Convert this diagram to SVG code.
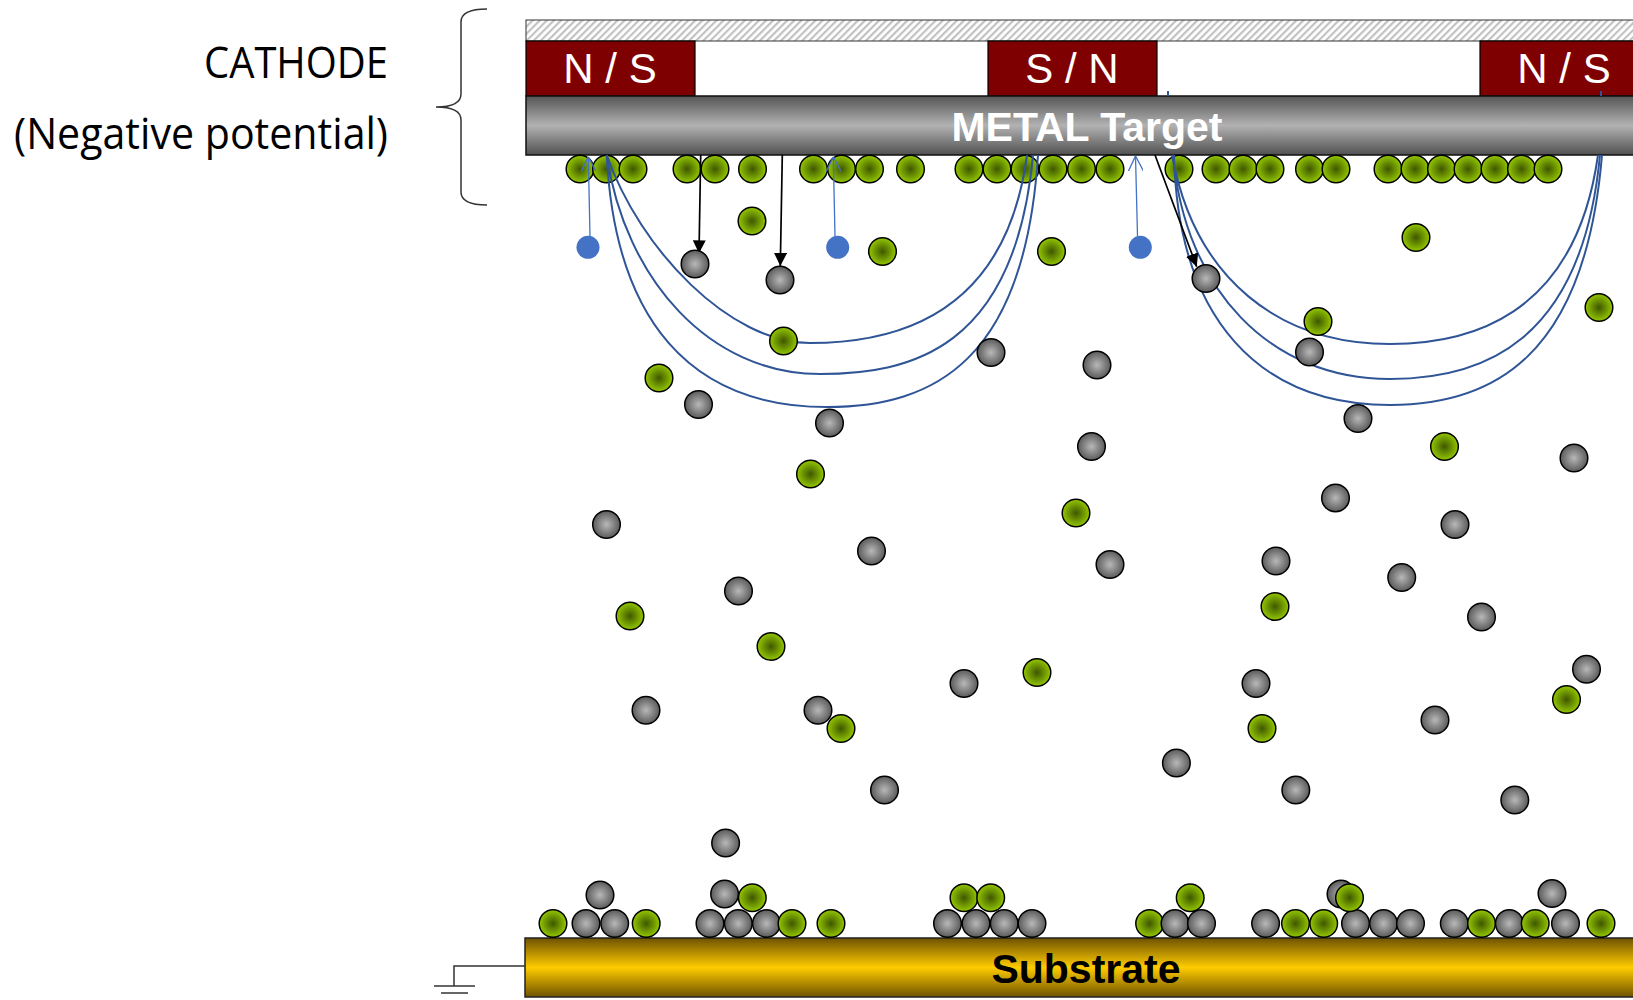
<svg xmlns="http://www.w3.org/2000/svg" width="1633" height="1000" viewBox="0 0 1633 1000">
  <style>
    .label { font-family: "Open Sans", "Liberation Sans", sans-serif; font-size: 44px; fill: #000; }
    .pole { font-family: "Liberation Sans", Arial, sans-serif; font-size: 42px; fill: #fff; text-anchor: middle; }
    .bold { font-family: "Liberation Sans", Arial, sans-serif; font-weight: bold; font-size: 41px; text-anchor: middle; }
    .magnet { fill: #7f0000; stroke: #000; stroke-width: 1.2; }
    .field { fill: none; stroke: #2f5597; stroke-width: 2; }
    .ion { fill: none; stroke: #4472c4; stroke-width: 1.3; }
    .atom { fill: none; stroke: #000; stroke-width: 1.7; }
    .g { fill: url(#gGreen); stroke: #000; stroke-width: 1.5; }
    .m { fill: url(#gGray); stroke: #000; stroke-width: 1.5; }
    .e { fill: #4472c4; }
    .wire { fill: none; stroke: #333; stroke-width: 1.5; }
  </style>
  <defs>
    <pattern id="hatch" width="5" height="5" patternUnits="userSpaceOnUse" patternTransform="rotate(45)">
      <rect width="5" height="5" fill="#fff"/>
      <line x1="1" y1="0" x2="1" y2="5" stroke="#c2c2c2" stroke-width="2.4"/>
    </pattern>
    <linearGradient id="gTarget" x1="0" y1="0" x2="0" y2="1">
      <stop offset="0" stop-color="#555"/>
      <stop offset="0.5" stop-color="#b2b2b2"/>
      <stop offset="1" stop-color="#505050"/>
    </linearGradient>
    <linearGradient id="gSubstrate" x1="0" y1="0" x2="0" y2="1">
      <stop offset="0" stop-color="#6e5200"/>
      <stop offset="0.5" stop-color="#ffcc00"/>
      <stop offset="1" stop-color="#6e5200"/>
    </linearGradient>
    <radialGradient id="gGreen" cx="0.5" cy="0.5" r="0.5">
      <stop offset="0" stop-color="#3f5700"/>
      <stop offset="1" stop-color="#94c800"/>
    </radialGradient>
    <radialGradient id="gGray" cx="0.5" cy="0.5" r="0.5">
      <stop offset="0" stop-color="#b8b8b8"/>
      <stop offset="1" stop-color="#5a5a5a"/>
    </radialGradient>
    <marker id="openHead" viewBox="0 0 10 10" refX="10" refY="5" markerWidth="15" markerHeight="15" markerUnits="userSpaceOnUse" orient="auto">
      <path d="M0,0 L10,5 L0,10" fill="none" stroke="#4472c4" stroke-width="0.9"/>
    </marker>
    <marker id="solidHead" viewBox="0 0 10 10" refX="10" refY="5" markerWidth="13" markerHeight="13" markerUnits="userSpaceOnUse" orient="auto">
      <path d="M0,0 L10,5 L0,10 z" fill="#000"/>
    </marker>
  </defs>

  <rect width="1633" height="1000" fill="#fff"/>

  <!-- cathode labels and brace -->
  <g id="cathode-label">
    <text class="label" x="388" y="78" text-anchor="end" textLength="184" lengthAdjust="spacingAndGlyphs">CATHODE</text>
    <text class="label" x="388" y="149" text-anchor="end" textLength="374" lengthAdjust="spacingAndGlyphs">(Negative potential)</text>
    <path class="wire" d="M487,9 Q461,9 461,22 L461,94 Q461,107 436,107 Q461,107 461,120 L461,192 Q461,205 487,205" stroke="#222" stroke-width="1.4"/>
  </g>

  <!-- backing plate -->
  <g id="backing-plate">
    <rect x="526" y="20" width="1120" height="21" fill="url(#hatch)" stroke="#333" stroke-width="1"/>
  </g>

  <!-- magnets -->
  <g id="magnet-left">
    <rect class="magnet" x="526" y="41" width="169" height="55"/>
    <text class="pole" x="610" y="83">N / S</text>
  </g>
  <g id="magnet-center">
    <rect class="magnet" x="988" y="41" width="169" height="55"/>
    <text class="pole" x="1072" y="83">S / N</text>
  </g>
  <g id="magnet-right">
    <rect class="magnet" x="1480" y="41" width="169" height="55"/>
    <text class="pole" x="1564" y="83">N / S</text>
  </g>

  <!-- metal target -->
  <g id="target">
    <rect x="526" y="96" width="1120" height="59" fill="url(#gTarget)" stroke="#111" stroke-width="1.5"/>
    <text class="bold" x="1087" y="141" fill="#fff">METAL Target</text>
  </g>

  <!-- atoms sitting on the target surface -->
  <g id="target-surface-atoms">
    <circle class="g" cx="580" cy="169" r="13.8"/>
    <circle class="g" cx="606.5" cy="169" r="13.8"/>
    <circle class="g" cx="633" cy="169" r="13.8"/>
    <circle class="g" cx="687" cy="169" r="13.8"/>
    <circle class="g" cx="715" cy="169" r="13.8"/>
    <circle class="g" cx="752.5" cy="169" r="13.8"/>
    <circle class="g" cx="813.5" cy="169" r="13.8"/>
    <circle class="g" cx="841.5" cy="169" r="13.8"/>
    <circle class="g" cx="869.5" cy="169" r="13.8"/>
    <circle class="g" cx="910.5" cy="169" r="13.8"/>
    <circle class="g" cx="969" cy="169" r="13.8"/>
    <circle class="g" cx="997" cy="169" r="13.8"/>
    <circle class="g" cx="1025" cy="169" r="13.8"/>
    <circle class="g" cx="1053" cy="169" r="13.8"/>
    <circle class="g" cx="1081.5" cy="169" r="13.8"/>
    <circle class="g" cx="1110" cy="169" r="13.8"/>
    <circle class="g" cx="1179" cy="169" r="13.8"/>
    <circle class="g" cx="1216" cy="169" r="13.8"/>
    <circle class="g" cx="1243" cy="169" r="13.8"/>
    <circle class="g" cx="1270" cy="169" r="13.8"/>
    <circle class="g" cx="1309.5" cy="169" r="13.8"/>
    <circle class="g" cx="1336" cy="169" r="13.8"/>
    <circle class="g" cx="1388" cy="169" r="13.8"/>
    <circle class="g" cx="1415" cy="169" r="13.8"/>
    <circle class="g" cx="1441.5" cy="169" r="13.8"/>
    <circle class="g" cx="1468" cy="169" r="13.8"/>
    <circle class="g" cx="1495" cy="169" r="13.8"/>
    <circle class="g" cx="1521.5" cy="169" r="13.8"/>
    <circle class="g" cx="1548" cy="169" r="13.8"/>
  </g>

  <!-- magnetic field lines and particle paths -->
  <g id="connectors">
    <path class="field" d="M606.7,155 C640,250 730,343 810,343 C890,343 1005,320 1027,155"/>
    <path class="field" d="M606.7,155 C625,280 710,374 820,374 C910,374 1015,350 1033,155"/>
    <path class="field" d="M606.7,155 C615,320 690,407 827,407 C935,407 1025,360 1038,155"/>
    <path class="field" d="M1172,155 C1195,280 1280,344 1390,344 C1465,344 1575,320 1598,155"/>
    <path class="field" d="M1173,155 C1185,290 1270,379 1390,379 C1480,379 1582,345 1600,155"/>
    <path class="field" d="M1174,155 C1178,320 1260,405 1390,405 C1490,405 1585,360 1602,155"/>
    <line class="field" x1="1168" y1="91" x2="1168" y2="96"/>
    <line class="field" x1="1601" y1="91" x2="1601" y2="96"/>
    <line class="ion" x1="590" y1="236" x2="588.3" y2="156.7" marker-end="url(#openHead)"/>
    <line class="ion" x1="835" y1="236" x2="833.3" y2="156.7" marker-end="url(#openHead)"/>
    <line class="ion" x1="1137.5" y1="236" x2="1135.5" y2="156" marker-end="url(#openHead)"/>
    <line class="atom" x1="700.7" y1="155" x2="699" y2="253"/>
    <line class="atom" x1="782.3" y1="155" x2="780.3" y2="266"/>
    <line class="atom" x1="1155" y1="155" x2="1196.7" y2="266.7" stroke-width="1.1"/>
    <line x1="700.7" y1="155" x2="699" y2="253.3" stroke="none" marker-end="url(#solidHead)"/>
    <line x1="782.3" y1="155" x2="780.3" y2="266" stroke="none" marker-end="url(#solidHead)"/>
    <line x1="1155" y1="155" x2="1196.7" y2="266.7" stroke="none" marker-end="url(#solidHead)"/>
  </g>

  <!-- argon ions -->
  <g id="ions">
    <circle class="e" cx="588" cy="247.3" r="11.5"/>
    <circle class="e" cx="837.7" cy="247.3" r="11.5"/>
    <circle class="e" cx="1140.3" cy="247.3" r="11.5"/>
  </g>

  <!-- sputtered atoms in flight -->
  <g id="flying-atoms">
    <circle class="m" cx="695" cy="264" r="13.8"/>
    <circle class="m" cx="780" cy="280" r="13.8"/>
    <circle class="m" cx="1206" cy="278.5" r="13.8"/>
    <circle class="m" cx="991" cy="352.5" r="13.8"/>
    <circle class="m" cx="1097" cy="365" r="13.8"/>
    <circle class="m" cx="1309.5" cy="352" r="13.8"/>
    <circle class="m" cx="698.5" cy="404.5" r="13.8"/>
    <circle class="m" cx="829.5" cy="423" r="13.8"/>
    <circle class="m" cx="1358" cy="418.5" r="13.8"/>
    <circle class="m" cx="1091.5" cy="446.5" r="13.8"/>
    <circle class="m" cx="1574" cy="458" r="13.8"/>
    <circle class="m" cx="1335.5" cy="498" r="13.8"/>
    <circle class="m" cx="606.5" cy="524.5" r="13.8"/>
    <circle class="m" cx="871.5" cy="551" r="13.8"/>
    <circle class="m" cx="1110" cy="564.5" r="13.8"/>
    <circle class="m" cx="1276" cy="561" r="13.8"/>
    <circle class="m" cx="1455" cy="524.5" r="13.8"/>
    <circle class="m" cx="738.5" cy="591" r="13.8"/>
    <circle class="m" cx="1401.7" cy="577.5" r="13.8"/>
    <circle class="m" cx="1481.5" cy="617" r="13.8"/>
    <circle class="m" cx="964" cy="683.5" r="13.8"/>
    <circle class="m" cx="1256" cy="683.5" r="13.8"/>
    <circle class="m" cx="1586.5" cy="669.3" r="13.8"/>
    <circle class="m" cx="646" cy="710.3" r="13.8"/>
    <circle class="m" cx="818" cy="710.3" r="13.8"/>
    <circle class="m" cx="1435" cy="720" r="13.8"/>
    <circle class="m" cx="1176.4" cy="763" r="13.8"/>
    <circle class="m" cx="884.5" cy="790" r="13.8"/>
    <circle class="m" cx="1295.8" cy="790" r="13.8"/>
    <circle class="m" cx="1514.8" cy="800" r="13.8"/>
    <circle class="m" cx="725.6" cy="843" r="13.8"/>

    <circle class="g" cx="752" cy="221" r="13.8"/>
    <circle class="g" cx="882.5" cy="251.5" r="13.8"/>
    <circle class="g" cx="1051.5" cy="251.5" r="13.8"/>
    <circle class="g" cx="1416" cy="237.5" r="13.8"/>
    <circle class="g" cx="1599" cy="307.5" r="13.8"/>
    <circle class="g" cx="1318" cy="321.5" r="13.8"/>
    <circle class="g" cx="783.5" cy="341" r="13.8"/>
    <circle class="g" cx="659" cy="378" r="13.8"/>
    <circle class="g" cx="1444.5" cy="446.5" r="13.8"/>
    <circle class="g" cx="810.5" cy="474" r="13.8"/>
    <circle class="g" cx="1076" cy="513" r="13.8"/>
    <circle class="g" cx="630" cy="616" r="13.8"/>
    <circle class="g" cx="771" cy="646.5" r="13.8"/>
    <circle class="g" cx="1275" cy="606.5" r="13.8"/>
    <circle class="g" cx="1037" cy="672.5" r="13.8"/>
    <circle class="g" cx="841" cy="728.5" r="13.8"/>
    <circle class="g" cx="1262" cy="728.5" r="13.8"/>
    <circle class="g" cx="1566.5" cy="699.5" r="13.8"/>
  </g>

  <!-- substrate with grounded lead -->
  <g id="substrate">
    <rect x="525" y="938" width="1120" height="59" fill="url(#gSubstrate)" stroke="#222" stroke-width="1.5"/>
    <text class="bold" x="1086" y="983" font-size="42" fill="#000">Substrate</text>
  </g>
  <g id="ground">
    <path class="wire" d="M525,966 H454 V986"/>
    <line class="wire" x1="434" y1="986" x2="475" y2="986"/>
    <line class="wire" x1="441" y1="993" x2="468" y2="993"/>
  </g>

  <!-- deposited film -->
  <g id="deposited-atoms">
    <circle class="g" cx="553" cy="923.5" r="13.8"/>
    <circle class="m" cx="586" cy="923.5" r="13.8"/>
    <circle class="m" cx="614.7" cy="923.5" r="13.8"/>
    <circle class="g" cx="646.2" cy="923.5" r="13.8"/>
    <circle class="m" cx="710" cy="923.5" r="13.8"/>
    <circle class="m" cx="738.3" cy="923.5" r="13.8"/>
    <circle class="m" cx="766.4" cy="923.5" r="13.8"/>
    <circle class="g" cx="792" cy="923.5" r="13.8"/>
    <circle class="g" cx="831" cy="923.5" r="13.8"/>
    <circle class="m" cx="947.5" cy="923.5" r="13.8"/>
    <circle class="m" cx="976" cy="923.5" r="13.8"/>
    <circle class="m" cx="1004.2" cy="923.5" r="13.8"/>
    <circle class="m" cx="1032" cy="923.5" r="13.8"/>
    <circle class="g" cx="1149.6" cy="923.5" r="13.8"/>
    <circle class="m" cx="1175" cy="923.5" r="13.8"/>
    <circle class="m" cx="1201.5" cy="923.5" r="13.8"/>
    <circle class="m" cx="1265.6" cy="923.5" r="13.8"/>
    <circle class="g" cx="1295.5" cy="923.5" r="13.8"/>
    <circle class="g" cx="1323.7" cy="923.5" r="13.8"/>
    <circle class="m" cx="1355.5" cy="923.5" r="13.8"/>
    <circle class="m" cx="1383.5" cy="923.5" r="13.8"/>
    <circle class="m" cx="1410.5" cy="923.5" r="13.8"/>
    <circle class="m" cx="1454.3" cy="923.5" r="13.8"/>
    <circle class="g" cx="1481.5" cy="923.5" r="13.8"/>
    <circle class="m" cx="1509.3" cy="923.5" r="13.8"/>
    <circle class="g" cx="1535.2" cy="923.5" r="13.8"/>
    <circle class="m" cx="1565.5" cy="923.5" r="13.8"/>
    <circle class="g" cx="1601" cy="923.5" r="13.8"/>

    <circle class="m" cx="600" cy="895" r="13.8"/>
    <circle class="m" cx="724.6" cy="894" r="13.8"/>
    <circle class="g" cx="752.3" cy="897.7" r="13.8"/>
    <circle class="g" cx="964" cy="897.7" r="13.8"/>
    <circle class="g" cx="990.7" cy="897.7" r="13.8"/>
    <circle class="g" cx="1190.2" cy="897.7" r="13.8"/>
    <circle class="m" cx="1341" cy="894" r="13.8"/>
    <circle class="g" cx="1349.5" cy="897.7" r="13.8"/>
    <circle class="m" cx="1552" cy="893.5" r="13.8"/>
  </g>
</svg>
